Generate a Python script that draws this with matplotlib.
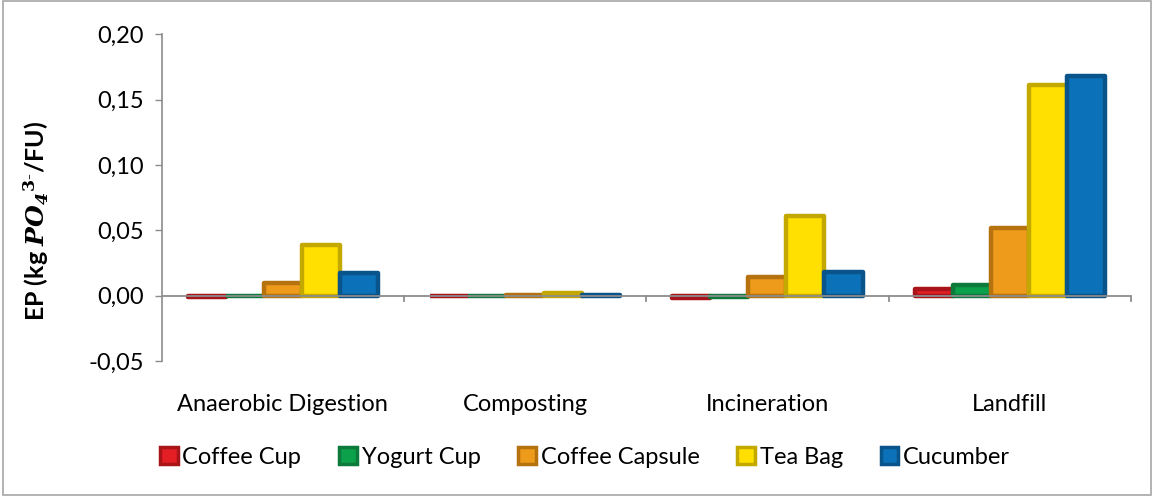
import matplotlib.pyplot as plt
import numpy as np
from matplotlib.patches import Rectangle, Patch

plt.rcParams['font.family'] = ['Lato', 'DejaVu Sans']
plt.rcParams['mathtext.fontset'] = 'dejavuserif'

categories = ["Anaerobic Digestion", "Composting", "Incineration", "Landfill"]
series = ["Coffee Cup", "Yogurt Cup", "Coffee Capsule", "Tea Bag", "Cucumber"]
coffee_cup = [-0.001, -0.0005, -0.002, 0.005]
yogurt_cup = [-0.0005, -0.0003, -0.001, 0.008]
coffee_capsule = [0.010, 0.0008, 0.0145, 0.052]
tea_bag = [0.039, 0.0022, 0.061, 0.161]
cucumber = [0.0175, 0.0008, 0.018, 0.168]

values = [coffee_cup, yogurt_cup, coffee_capsule, tea_bag, cucumber]
faces = ["#E31E24", "#0BA04A", "#EE9A1A", "#FFE000", "#0B71B8"]
edges = ["#A8141A", "#0B7A3A", "#B5720F", "#C3A800", "#08548B"]

fig = plt.figure(figsize=(11.54, 4.96), dpi=100)
ax = fig.add_axes([0.140, 0.272, 0.840, 0.659])

x = np.arange(len(categories))
width = 0.157
for i, (name, vals) in enumerate(zip(series, values)):
    ax.bar(x + (i - 2) * width, vals, width, color=faces[i], edgecolor=edges[i],
           linewidth=3.2, joinstyle='round', label=name, zorder=2)

ax.set_xlim(-0.5, len(categories) - 0.5)
ax.set_ylim(-0.05, 0.20)
yt = np.arange(-0.05, 0.2001, 0.05)
ax.set_yticks(yt)
ax.set_yticklabels([f"{v:.2f}".replace(".", ",") for v in yt], fontsize=17)
ax.tick_params(axis='y', length=5, color='#8C8C8C', width=1, pad=8)

# zero line with category boundary ticks
ax.axhline(0, color='#8C8C8C', linewidth=1.3, zorder=3)
for b in np.arange(0.5, len(categories), 1.0):
    ax.plot([b, b], [0, -0.004], color='#8C8C8C', linewidth=1.3, zorder=3, clip_on=False)
ax.set_xticks([])
for xi, c in zip(x, categories):
    ax.text(xi, -0.0835, c, ha='center', va='center', fontsize=17)

for s in ['top', 'right', 'bottom']:
    ax.spines[s].set_visible(False)
ax.spines['left'].set_color('#8C8C8C')
ax.spines['left'].set_linewidth(1.2)

ax.set_ylabel(r"EP (kg $\mathbfit{PO}_{\mathbfit{4}}$$^{\mathbf{3\text{-}}}$/FU)",
              fontsize=18, fontweight='bold')
ax.yaxis.set_label_coords(-0.114, 0.43)

handles = [Patch(facecolor=faces[i], edgecolor=edges[i], linewidth=2.5, label=series[i])
           for i in range(len(series))]
fig.legend(handles=handles, loc='center', bbox_to_anchor=(0.507, 0.078), ncol=5,
           frameon=False, fontsize=17, handlelength=0.75, handleheight=0.75,
           handletextpad=0.2, columnspacing=1.6)

fig.patches.append(Rectangle((0.003, 0.003), 0.994, 0.994, transform=fig.transFigure,
                             fill=False, edgecolor='#A6A6A6', linewidth=1.2))

fig.savefig('out.png', dpi=100)
